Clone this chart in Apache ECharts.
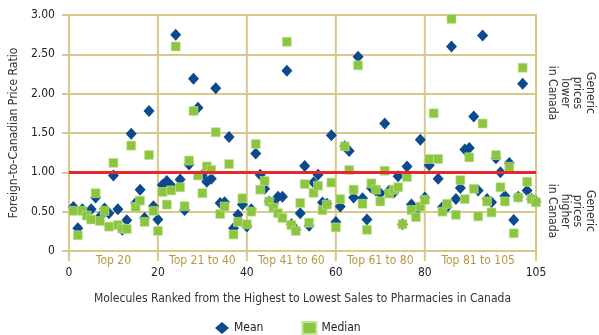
<!DOCTYPE html>
<html>
<head>
<meta charset="utf-8">
<script src="https://cdn.jsdelivr.net/npm/echarts@6/dist/echarts.min.js"></script>
<style>html,body{margin:0;padding:0;background:#fff;}#c{width:599px;height:335px;}</style>
</head>
<body>
<div id="c"></div>
<script>
const ranks = [1,2,3,4,5,6,7,8,9,10,11,12,13,14,15,16,17,18,19,20,21,22,23,24,25,26,27,28,29,30,31,32,33,34,35,36,37,38,39,40,41,42,43,44,45,46,47,48,49,50,51,52,53,54,55,56,57,58,59,60,61,62,63,64,65,66,67,68,69,70,71,72,73,74,75,76,77,78,79,80,81,82,83,84,85,86,87,88,89,90,91,92,93,94,95,96,97,98,99,100,101,102,103,104,105];
const meanRatio = [0.56,0.29,0.53,0.48,0.53,0.68,0.44,0.54,0.48,0.96,0.53,0.27,0.39,1.49,0.61,0.78,0.42,1.78,0.57,0.40,
  0.84,0.89,0.83,2.75,0.91,0.52,1.10,2.19,1.82,0.97,0.88,0.92,2.07,0.61,0.62,1.45,0.29,0.46,0.59,0.31,
  0.53,1.24,0.97,0.79,0.63,0.60,0.69,0.69,2.29,0.34,0.27,0.48,1.08,0.32,0.87,0.97,0.615,0.60,1.47,0.37,
  0.565,1.33,1.27,0.68,2.47,0.67,0.40,0.80,0.77,0.735,1.62,0.77,0.74,0.95,0.34,1.075,0.59,0.52,1.415,0.68,
  1.09,null,0.92,0.56,0.56,2.60,0.66,0.80,1.29,1.31,1.71,0.77,2.74,0.66,0.62,1.18,1.00,0.70,1.12,0.395,
  0.69,2.125,0.77,0.66,0.63];
const medianRatio = [0.51,0.20,0.51,0.45,0.40,0.735,0.38,0.51,0.31,1.12,0.33,0.285,0.28,1.34,0.56,0.64,0.37,1.22,0.51,0.255,
  0.75,0.59,0.77,2.60,0.81,0.57,1.15,1.78,0.96,0.735,1.075,1.03,1.51,0.47,0.565,1.105,0.21,0.37,0.67,0.34,
  0.50,1.36,0.78,0.89,0.63,0.55,0.48,0.42,2.66,0.33,0.255,0.61,0.85,0.36,0.74,0.83,0.52,0.59,0.87,0.30,
  0.66,1.33,1.03,0.78,2.36,0.60,0.27,0.86,0.78,0.63,1.02,0.73,0.78,0.81,0.34,0.94,0.52,0.43,0.565,0.65,
  1.17,1.75,1.17,0.50,0.60,2.95,0.46,0.90,0.66,1.19,0.79,0.44,1.62,0.63,0.49,1.22,0.81,0.63,1.07,0.225,
  0.68,2.33,0.88,0.66,0.62];
const xTicks = [0,20,40,60,80,105];
const groupCenters = [10,30,50,70,92];
const groupLabels = ['Top 20','Top 21 to 40','Top 41 to 60','Top 61 to 80','Top 81 to 105'];
const parityLine = 1;
const yMax = 3;

const FONT = '"Liberation Sans Narrow", "DejaVu Sans Condensed", "Liberation Sans", sans-serif';
const GRID = '#d8c88a';

function pairs(vals){ return ranks.map((r,i)=> [r, vals[i]]); }

const chart = echarts.init(document.getElementById('c'), null, {renderer:'canvas'});
chart.setOption({
  animation:false,
  textStyle:{fontFamily:FONT},
  grid:{left:51, right:63, top:15, bottom:84, containLabel:false},
  xAxis:[{
    type:'value', min:0, max:105,
    name:'Molecules Ranked from the Highest to Lowest Sales to Pharmacies in Canada',
    nameLocation:'middle', nameGap:42,
    nameTextStyle:{fontFamily:FONT, fontSize:12, color:'#333'},
    axisLine:{show:false},
    axisTick:{show:false},
    axisLabel:{customValues:xTicks, margin:16, fontFamily:FONT, fontSize:12, color:'#222'},
    splitLine:{show:false}
  },{
    type:'value', min:0, max:105, position:'bottom',
    axisLine:{show:false}, axisTick:{show:false}, splitLine:{show:false},
    axisLabel:{customValues:groupCenters, margin:4, fontFamily:FONT, fontSize:12, color:'#b8983e',
      formatter:function(v){ const i = groupCenters.indexOf(v); return i>=0 ? groupLabels[i] : ''; }}
  }],
  yAxis:{
    type:'value', min:0, max:yMax, interval:0.5,
    name:'Foreign-to-Canadian Price Ratio', nameLocation:'middle', nameGap:39,
    nameTextStyle:{fontFamily:FONT, fontSize:12, color:'#333'},
    axisLine:{show:false},
    axisTick:{show:true, length:7, lineStyle:{color:GRID, width:2}},
    axisLabel:{margin:14, fontFamily:FONT, fontSize:12, color:'#222',
      formatter:function(v){ return v===0 ? '0' : v.toFixed(2); }},
    splitLine:{show:true, lineStyle:{color:GRID, width:2}}
  },
  legend:{
    left:210, top:316, itemGap:38, itemWidth:14, itemHeight:12,
    textStyle:{fontFamily:FONT, fontSize:12, color:'#222'},
    data:[{name:'Mean', icon:'diamond'},{name:'Median', icon:'rect'}]
  },
  series:[
    {type:'custom', name:'vgrid', silent:true, z:1, clip:false,
      data:xTicks.map(function(v){ return [v]; }),
      renderItem:function(params, api){
        const top = api.coord([api.value(0), yMax]);
        const bottom = api.coord([api.value(0), 0]);
        return {type:'rect',
          shape:{x:top[0] - 1, y:top[1] - 1, width:2, height:(bottom[1] - top[1]) + 11},
          style:{fill:GRID, stroke:null}};
      }},
    {type:'line', name:'ref', data:[], z:1, silent:true,
      markLine:{silent:true, symbol:['none','none'], label:{show:false},
        lineStyle:{color:'#e8262b', width:3, type:'solid'}, data:[{yAxis:parityLine}]}},
    {type:'scatter', name:'Mean', symbol:'diamond', symbolSize:[11,12], z:2,
      itemStyle:{color:'#0b4a8f', opacity:1}, data:pairs(meanRatio)},
    {type:'scatter', name:'Median', symbol:'rect', symbolSize:9, z:3,
      itemStyle:{color:'#8cc63f', borderColor:'#c5e39a', borderWidth:0.6, opacity:1}, data:pairs(medianRatio)}
  ],
  graphic:[
    {type:'text', x:571, y:93, rotation:-Math.PI/2,
      style:{text:'Generic\nprices\nlower\nin Canada', align:'center', verticalAlign:'middle',
        fontFamily:FONT, fontSize:12, lineHeight:12.5, fill:'#333'}},
    {type:'text', x:571, y:211, rotation:-Math.PI/2,
      style:{text:'Generic\nprices\nhigher\nin Canada', align:'center', verticalAlign:'middle',
        fontFamily:FONT, fontSize:12, lineHeight:12.5, fill:'#333'}}
  ]
});
</script>
</body>
</html>
